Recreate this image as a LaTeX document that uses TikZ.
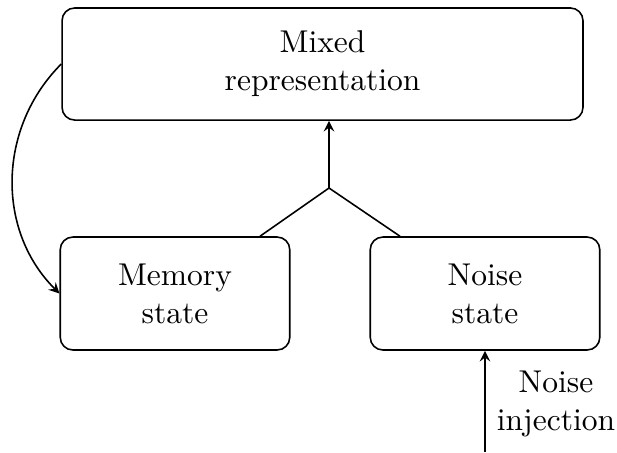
\documentclass[tikz,border=0pt]{standalone}
\usetikzlibrary{calc}

\tikzset{
	statebox/.style={draw, rounded corners=4pt, align=center, minimum width=2.56cm, minimum height=1.26cm},
	bigbox/.style={draw, rounded corners=4pt, align=center, minimum width=5.81cm, minimum height=1.25cm},
}

\begin{document}
\begin{tikzpicture}[x=0.01115cm, y=-0.01115cm, >=stealth, line width=0.5pt]
		\useasboundingbox (0, 0) rectangle (617, 452);
		\node[bigbox] (mixed) at (322.5, 64) {Mixed\\representation};
		\node[statebox] (memory) at (175, 293.5) {Memory\\state};
		\node[statebox] (noise) at (485, 293.5) {Noise\\state};
		\node[align=center] (injlabel) at (556, 404) {Noise\\injection};
		\coordinate (join) at (329, 188);
		\coordinate (inj) at (485, 452);
		\draw ($(memory.north) + (85, 0)$) -- (join);
		\draw ($(noise.north) + (-85, 0)$) -- (join);
		\draw[->] (join) -- (join |- mixed.south);
		\draw[->] (inj) -- (noise.south);
		\draw[->] (mixed.west) to[out=225, in=135] (memory.west);
	\end{tikzpicture}
\end{document}
